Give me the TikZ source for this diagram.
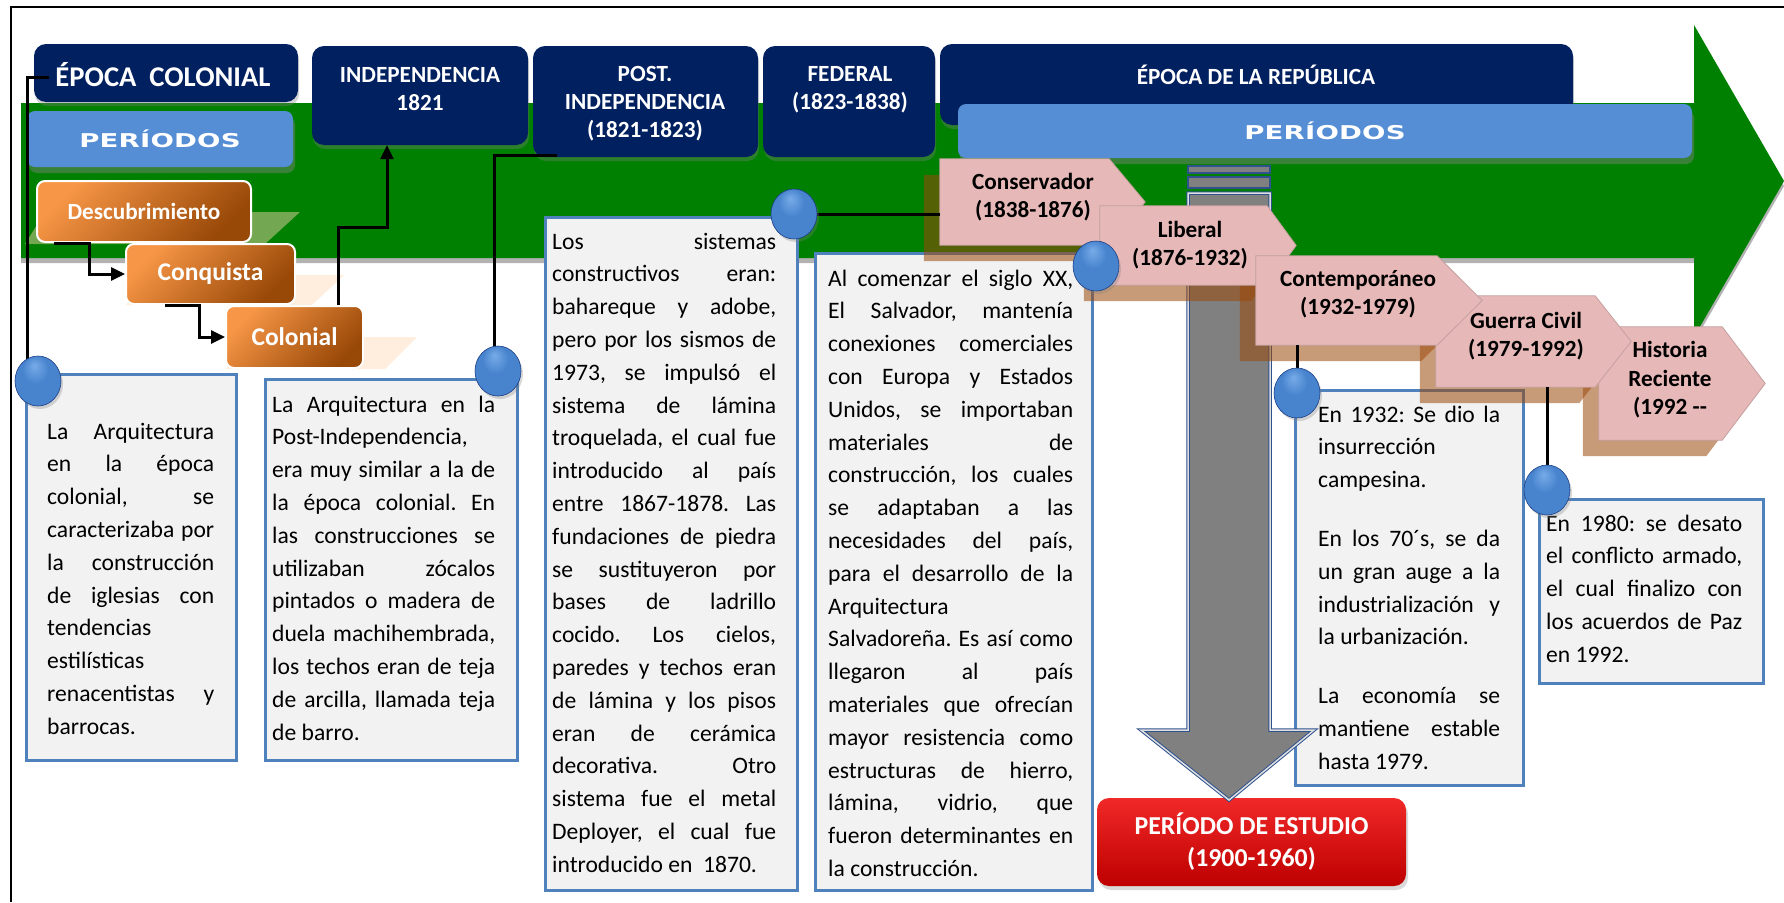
\documentclass[tikz,border=0pt]{standalone}
\usepackage{fontspec}
\setmainfont{Carlito}
\newfontfamily\perfont[FakeStretch=1.45,LetterSpace=1]{DejaVu Sans}
\usetikzlibrary{arrows.meta,shapes.geometric,shadows,calc}
\pgfdeclarelayer{fg}
\pgfsetlayers{main,fg}
\definecolor{navy}{RGB}{0,32,96}
\definecolor{gbar}{RGB}{85,142,213}
\definecolor{grn}{RGB}{0,128,0}
\definecolor{pinkb}{RGB}{230,184,183}
\definecolor{pinkd}{RGB}{196,160,160}
\definecolor{tanS}{RGB}{155,73,10}
\definecolor{orgL}{RGB}{247,150,70}
\definecolor{orgD}{RGB}{152,72,7}
\definecolor{bbord}{RGB}{79,129,189}
\definecolor{boxf}{RGB}{242,242,242}
\definecolor{redL}{RGB}{240,40,40}
\definecolor{redD}{RGB}{190,0,0}
\definecolor{arrB}{RGB}{47,82,143}
\definecolor{ballL}{RGB}{120,172,232}
\definecolor{ballM}{RGB}{72,132,206}
\definecolor{ballD}{RGB}{45,95,175}
\definecolor{ballE}{RGB}{30,65,135}
\definecolor{peach}{RGB}{255,215,180}
\pgfdeclareradialshading{bluesphere}{\pgfpoint{-4bp}{16bp}}{color(0bp)=(ballL); color(14bp)=(ballM); color(30bp)=(ballM); color(40bp)=(ballD); color(50bp)=(ballE)}
\newcommand\jus[1]{\hbox to\hsize{#1}}
\newcommand\lft[1]{\hbox{#1}}
\newcommand\tbody[2]{\vtop{\hsize=#1pt\baselineskip=32.8pt\frenchspacing\relax #2}}
\newcommand\pentpath[3]{\path[#1] (#2.north west) -- ([xshift=-#3pt]#2.north east) -- (#2.east) -- ([xshift=-#3pt]#2.south east) -- (#2.south west) -- cycle;}
\begin{document}
\begin{tikzpicture}[x=1pt,y=-1pt,
  conn/.style={line width=3pt, black},
  arr/.style={-{Triangle[length=14pt,width=13pt]}},
  navybox/.style={fill=navy, rounded corners=12pt, inner sep=0pt, drop shadow={shadow xshift=1pt, shadow yshift=-4pt, opacity=0.35}},
  navytxt/.style={text=white, font=\bfseries\fontsize{23.2}{28}\selectfont, align=center, inner sep=0pt},
  barbox/.style={fill=gbar, rounded corners=8pt, inner sep=0pt, text=white, font=\perfont\bfseries\fontsize{19}{19}\selectfont, drop shadow={shadow xshift=2pt, shadow yshift=-6pt, opacity=0.45}},
  orgbox/.style={top color=orgL, bottom color=orgD, shading angle=45, draw=white, line width=2pt, rounded corners=8pt, inner sep=0pt, text=white, font=\bfseries\fontsize{25.5}{28}\selectfont},
  redbox/.style={top color=redL, bottom color=redD, rounded corners=12pt, inner sep=0pt, text=white, align=center, font=\bfseries\fontsize{25.8}{32}\selectfont, drop shadow={shadow xshift=2pt, shadow yshift=-4pt, opacity=0.3}},
  txtbox/.style={fill=boxf, draw=bbord, line width=3pt, inner sep=0pt},
  bodytxt/.style={anchor=base west, inner sep=0pt, font=\fontsize{23.6}{32.8}\selectfont},
  pentbase/.style={inner sep=0pt, rectangle},
  pfill/.style={fill=pinkb, draw=pinkd, line width=0.8pt},
  pshadow/.style={fill=tanS, opacity=0.55, transform canvas={xshift=-16pt, yshift=-16pt}},
  pinktxt/.style={font=\bfseries\fontsize{23.2}{28.5}\selectfont, align=center, inner sep=0pt},
  ballnode/.style={ellipse, minimum width=46pt, minimum height=50pt, inner sep=0pt, shading=bluesphere, draw=ballE, line width=0.6pt, drop shadow={shadow xshift=2pt, shadow yshift=-3pt, opacity=0.3}},
  oshadow/.style={fill=peach, opacity=0.45},
  stripe/.style={fill=gray, draw=arrB, line width=1.5pt},
  darrow/.style={fill=gray, draw=arrB, double=gray!25, double distance=1.5pt, line width=1pt},
]
\useasboundingbox (0,0) rectangle (1784,902);
% frame
\draw[line width=2pt] (11,902) -- (11,7) -- (1784,7);
% green timeline arrow
\fill[black!30, transform canvas={yshift=-5pt}] (21,103) -- (1694,103) -- (1694,25) -- (1784,181) -- (1694,337) -- (1694,258) -- (21,258) -- cycle;
\fill[grn] (21,103) -- (1694,103) -- (1694,25) -- (1784,181) -- (1694,337) -- (1694,258) -- (21,258) -- cycle;
% reflections of orange boxes
\fill[oshadow] (45,212) -- (300,212) -- (265,244) -- (25,244) -- cycle;
\fill[oshadow] (150,275) -- (344,275) -- (312,305) -- (126,305) -- cycle;
\fill[oshadow] (250,337) -- (417,337) -- (385,369) -- (226,369) -- cycle;
% navy epoch boxes
\node[navybox, minimum width=264pt, minimum height=58pt] (ec) at (166,73) {};
\node[navybox, minimum width=216pt, minimum height=99pt] (ind) at (420,95.5) {};
\node[navybox, minimum width=225pt, minimum height=111pt] (post) at (645.5,101.5) {};
\node[navybox, minimum width=172pt, minimum height=111pt] (fed) at (849,101.5) {};
\node[navybox, minimum width=633pt, minimum height=81pt] (rep) at (1256.5,84.5) {};
\node[navytxt, font=\bfseries\fontsize{28.6}{30}\selectfont] (ecT) at (163,75) {ÉPOCA\ \ COLONIAL};
\node[navytxt] (indT) at (420,89) {INDEPENDENCIA\\1821};
\node[navytxt] (postT) at (645,104) {POST.\\INDEPENDENCIA\\(1821-1823)};
\node[navytxt] (fedT) at (850,90) {FEDERAL\\(1823-1838)};
\node[navytxt] (repT) at (1256,75) {ÉPOCA DE LA REPÚBLICA};
% periods bars
\node[barbox, minimum width=266pt, minimum height=56pt] (perL) at (160,139) {PERÍODOS};
\node[barbox, minimum width=734pt, minimum height=54pt] (perR) at (1325,131) {PERÍODOS};
% study period
\node[redbox, minimum width=309pt, minimum height=88pt] (est) at (1251.5,842) {PERÍODO DE ESTUDIO\\(1900-1960)};
% text boxes
\node[txtbox, minimum width=210pt, minimum height=386pt] (b1) at (131,567) {};
\node[txtbox, minimum width=252pt, minimum height=381pt] (b2) at (391,569.5) {};
\node[txtbox, minimum width=252pt, minimum height=673pt] (b3) at (671,553.5) {};
\node[txtbox, minimum width=277pt, minimum height=637pt] (b4) at (953.5,571.5) {};
\node[txtbox, minimum width=228pt, minimum height=395pt] (b5) at (1409,587.5) {};
\node[txtbox, minimum width=224pt, minimum height=184pt] (b6) at (1651,591) {};
\node[bodytxt] (t1) at (47,439) {\tbody{167}{%
\jus{La Arquitectura}
\jus{en la época}
\jus{colonial, se}
\jus{caracterizaba por}
\jus{la construcción}
\jus{de iglesias con}
\lft{tendencias}
\lft{estilísticas}
\jus{renacentistas y}
\lft{barrocas.}}};
\node[bodytxt] (t2) at (272,412) {\tbody{223}{%
\jus{La Arquitectura en la}
\lft{Post-Independencia,}
\jus{era muy similar a la de}
\jus{la época colonial. En}
\jus{las construcciones se}
\jus{utilizaban zócalos}
\jus{pintados o madera de}
\jus{duela machihembrada,}
\jus{los techos eran de teja}
\jus{de arcilla, llamada teja}
\lft{de barro.}}};
\node[bodytxt] (t3) at (552,249) {\tbody{224}{%
\jus{Los sistemas}
\jus{constructivos eran:}
\jus{bahareque y adobe,}
\jus{pero por los sismos de}
\jus{1973, se impulsó el}
\jus{sistema de lámina}
\jus{troquelada, el cual fue}
\jus{introducido al país}
\jus{entre 1867-1878. Las}
\jus{fundaciones de piedra}
\jus{se sustituyeron por}
\jus{bases de ladrillo}
\jus{cocido. Los cielos,}
\jus{paredes y techos eran}
\jus{de lámina y los pisos}
\jus{eran de cerámica}
\jus{decorativa. Otro}
\jus{sistema fue el metal}
\jus{Deployer, el cual fue}
\lft{introducido en\ \ 1870.}}};
\node[bodytxt] (t4) at (828,286) {\tbody{245}{%
\jus{Al comenzar el siglo XX,}
\jus{El Salvador, mantenía}
\jus{conexiones comerciales}
\jus{con Europa y Estados}
\jus{Unidos, se importaban}
\jus{materiales de}
\jus{construcción, los cuales}
\jus{se adaptaban a las}
\jus{necesidades del país,}
\jus{para el desarrollo de la}
\lft{Arquitectura}
\jus{Salvadoreña. Es así como}
\jus{llegaron al país}
\jus{materiales que ofrecían}
\jus{mayor resistencia como}
\jus{estructuras de hierro,}
\jus{lámina, vidrio, que}
\jus{fueron determinantes en}
\lft{la construcción.}}};
\node[bodytxt] (t5) at (1318,422) {\tbody{182}{%
\jus{En 1932: Se dio la}
\lft{insurrección}
\lft{campesina.}
\vskip 26pt
\jus{En los 70´s, se da}
\jus{un gran auge a la}
\jus{industrialización y}
\lft{la urbanización.}
\vskip 26pt
\jus{La economía se}
\jus{mantiene estable}
\lft{hasta 1979.}}};
\node[bodytxt] (t6) at (1546,531) {\tbody{196}{%
\jus{En 1980: se desato}
\jus{el conflicto armado,}
\jus{el cual finalizo con}
\jus{los acuerdos de Paz}
\lft{en 1992.}}};
% gray down arrow
\path[stripe] (1188,166) rectangle (1270,173);
\path[stripe] (1188,177) rectangle (1270,188);
\path[darrow] (1188,193) -- (1270,193) -- (1270,730) -- (1314,730) -- (1229,800) -- (1141,730) -- (1188,730) -- cycle;
% orange period boxes
\node[orgbox, font=\bfseries\fontsize{23.2}{28}\selectfont, minimum width=214pt, minimum height=61pt] (desc) at (144,211.5) {Descubrimiento};
\node[orgbox, minimum width=169pt, minimum height=60pt] (conq) at (210.5,274) {Conquista};
\node[orgbox, minimum width=137pt, minimum height=62pt] (colo) at (294.5,337) {Colonial};
\draw[conn,arr] ([xshift=18pt]desc.south west) -- ([xshift=53pt]desc.south west) |- (conq.west);
\draw[conn,arr] ([xshift=40pt]conq.south west) -- ([xshift=74pt]conq.south west) |- (colo.west);
\draw[conn,arr] ([xshift=113pt]colo.north west) |- ($(ind.south)+(-33,82)$) -- ([xshift=-33pt]ind.south);
% republic periods
\node[pentbase, minimum width=205pt, minimum height=86pt] (cons) at (1042.5,202) {};
\node[pentbase, minimum width=196pt, minimum height=79pt] (lib) at (1198,245.5) {};
\node[pentbase, minimum width=226pt, minimum height=89pt] (cont) at (1369,300.5) {};
\node[pentbase, minimum width=195pt, minimum height=91pt] (guer) at (1533.5,341.5) {};
\node[pentbase, minimum width=166pt, minimum height=113pt] (hist) at (1682,383.5) {};
\pentpath{pshadow}{cons}{36}
\pentpath{pshadow}{lib}{29}
\pentpath{pshadow}{cont}{45}
\pentpath{pshadow}{guer}{36}
\pentpath{pshadow}{hist}{43}
\pentpath{pfill}{cons}{36}
\pentpath{pfill}{lib}{29}
\pentpath{pfill}{hist}{43}
\pentpath{pfill}{guer}{36}
\pentpath{pfill}{cont}{45}
\node[pinktxt] (consT) at (1033,197) {Conservador\\(1838-1876)};
\node[pinktxt] (libT) at (1190,245) {Liberal\\(1876-1932)};
\node[pinktxt] (contT) at (1358,294) {Contemporáneo\\(1932-1979)};
\node[pinktxt] (guerT) at (1526,336) {Guerra Civil\\(1979-1992)};
\node[pinktxt] (histT) at (1670,380) {Historia\\Reciente\\(1992 -{}-};
% markers
\begin{pgfonlayer}{fg}
\node[ballnode] (c1) at (38,381) {};
\node[ballnode] (c2) at (498,371) {};
\node[ballnode] (c3) at (794,214) {};
\node[ballnode] (c4) at (1096,266) {};
\node[ballnode] (c5) at (1297,393) {};
\node[ballnode] (c6) at (1547,490) {};
\end{pgfonlayer}
\draw[conn] ([shift={(15,4)}]ec.west) -| ([xshift=-11pt]c1.center);
\draw[conn] ([shift={(24,-2)}]post.south west) -| ([xshift=-4pt]c2.center);
\draw[conn] (c3.center) -- (c3.center -| cons.west);
\draw[conn] (c5.center) -- (c5.center |- cont.south);
\draw[conn] (c6.center) -- (c6.center |- guer.south);
\end{tikzpicture}
\end{document}
